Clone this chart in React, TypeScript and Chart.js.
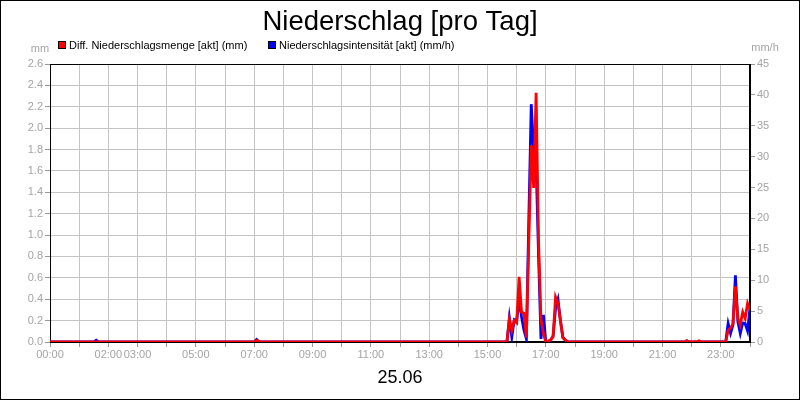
import React, { useEffect, useRef } from "react";
import { Chart, registerables } from "chart.js";

Chart.register(...registerables);

// ---- Texts ----
const TITLE = "Niederschlag [pro Tag]";
const DATE_LABEL = "25.06";
const SERIES_NAMES = [
  "Diff. Niederschlagsmenge [akt] (mm)",
  "Niederschlagsintensität [akt] (mm/h)",
];
const UNIT_LEFT = "mm";
const UNIT_RIGHT = "mm/h";

// ---- Axis ticks ----
const X_LABEL_HOURS = [0, 2, 3, 5, 7, 9, 11, 13, 15, 17, 19, 21, 23];
const LEFT_MAX = 2.6;
const LEFT_STEP = 0.2;
const RIGHT_MAX = 45;
const RIGHT_STEP = 5;

// ---- Data (5-minute readings; omitted stretches are 0) ----
const times = [
  "00:00", "01:30", "01:35", "01:40",
  "07:00", "07:05", "07:10", "07:15",
  "15:40", "15:45", "15:50", "15:55", "16:00", "16:05", "16:10", "16:15",
  "16:20", "16:25", "16:30", "16:35", "16:40", "16:45", "16:50", "16:55",
  "17:00", "17:05", "17:10", "17:15", "17:20", "17:25", "17:30", "17:35",
  "17:40", "17:45",
  "21:45", "21:50", "21:55", "22:10", "22:15", "22:20",
  "23:10", "23:15", "23:20", "23:25", "23:30", "23:35", "23:40", "23:45",
  "23:50", "23:55", "24:00",
];
const mengeMm = [
  0, 0, 0, 0,
  0, 0.015, 0.005, 0,
  0, 0.21, 0.11, 0.2, 0.18, 0.61, 0.28, 0.27,
  0.04, 0.95, 1.84, 1.44, 2.33, 0.95, 0.21, 0.08,
  0, 0.01, 0.02, 0.05, 0.42, 0.36, 0.2, 0.04,
  0.02, 0,
  0, 0.012, 0, 0, 0.012, 0,
  0, 0.11, 0.13, 0.17, 0.52, 0.22, 0.16, 0.28,
  0.22, 0.36, 0.3,
];
const intensitaetMmH = [
  0, 0, 0.3, 0,
  0, 0.4, 0, 0,
  0, 3.9, 0.8, 3.6, 3.4, 6.9, 4.1, 1.9,
  0.5, 20, 38.5, 31, 28.9, 14, 0.5, 4.4,
  0, 0, 0.3, 1.0, 5.5, 6.9, 3.5, 0.8,
  0.3, 0,
  0, 0.2, 0, 0, 0, 0,
  0, 3.0, 1.4, 2.8, 10.8, 3.3, 1.4, 3.1,
  3.0, 1.8, 5.5,
];

const COLORS = ["#ff0000", "#0000ff"];
const FONT = "'Liberation Sans', Arial, Helvetica, sans-serif";
const TICK_COLOR = "#a4a4a4";
const GRID_COLOR = "#c4c4c4";

const toMinutes = (t: string) => {
  const [h, m] = t.split(":").map(Number);
  return h * 60 + m;
};
const pad2 = (n: number) => (n < 10 ? "0" + n : "" + n);

const decorPlugin = {
  id: "decor",
  beforeDatasetsDraw(chart: any) {
    const { ctx, chartArea } = chart;
    ctx.save();
    ctx.strokeStyle = "#000";
    ctx.lineWidth = 1;
    const l = Math.round(chartArea.left) + 0.5;
    const r = Math.round(chartArea.right) - 0.5;
    const t = Math.round(chartArea.top) + 0.5;
    const b = Math.round(chartArea.bottom) - 0.5;
    ctx.strokeRect(l, t, r - l, b - t);
    ctx.restore();
  },
  afterDraw(chart: any) {
    const { ctx } = chart;
    ctx.save();
    // title
    ctx.fillStyle = "#000";
    ctx.textAlign = "center";
    ctx.textBaseline = "alphabetic";
    ctx.font = `27.5px ${FONT}`;
    ctx.fillText(TITLE, 400, 30);
    // date
    ctx.font = `18px ${FONT}`;
    ctx.textBaseline = "middle";
    ctx.fillText(DATE_LABEL, 400, 378);
    // legend
    ctx.font = `11px ${FONT}`;
    ctx.textAlign = "left";
    const legendX = [58, 268];
    chart.data.datasets.forEach((ds: any, i: number) => {
      const x = legendX[i];
      ctx.fillStyle = ds.borderColor;
      ctx.fillRect(x, 41, 8, 8);
      ctx.strokeStyle = "#000";
      ctx.lineWidth = 1;
      ctx.strokeRect(x + 0.5, 41.5, 7, 7);
      ctx.fillStyle = "#000";
      ctx.fillText(ds.label, x + 11, 45.5);
    });
    // units
    ctx.fillStyle = TICK_COLOR;
    ctx.textAlign = "center";
    ctx.fillText(UNIT_LEFT, 40, 49);
    ctx.fillText(UNIT_RIGHT, 765, 48);
    ctx.restore();
  },
};

export default function App() {
  const canvasRef = useRef<HTMLCanvasElement | null>(null);

  useEffect(() => {
    document.body.style.margin = "0";
    const canvas = canvasRef.current;
    if (!canvas) return;
    const xs = times.map(toMinutes);
    const chart = new Chart(canvas, {
      type: "line",
      data: {
        datasets: [
          {
            label: SERIES_NAMES[0],
            data: xs.map((x, i) => ({ x, y: mengeMm[i] })),
            borderColor: COLORS[0],
            backgroundColor: COLORS[0],
            borderWidth: 2.8,
            pointRadius: 0,
            tension: 0,
            yAxisID: "y",
          },
          {
            label: SERIES_NAMES[1],
            data: xs.map((x, i) => ({ x, y: intensitaetMmH[i] })),
            borderColor: COLORS[1],
            backgroundColor: COLORS[1],
            borderWidth: 2.8,
            pointRadius: 0,
            tension: 0,
            yAxisID: "y2",
          },
        ],
      },
      options: {
        animation: false,
        responsive: false,
        devicePixelRatio: 1,
        layout: { padding: { top: 64, bottom: 38, left: 0, right: 0 } },
        plugins: {
          legend: { display: false },
          title: { display: false },
          tooltip: { enabled: false },
        },
        scales: {
          x: {
            type: "linear",
            min: 0,
            max: 1440,
            afterFit: (s: any) => {
              s.height = 20;
            },
            ticks: {
              stepSize: 60,
              autoSkip: false,
              maxRotation: 0,
              padding: 1,
              color: TICK_COLOR,
              font: { family: FONT, size: 11 },
              callback: (v: any) => {
                const h = Number(v) / 60;
                return X_LABEL_HOURS.includes(h) ? pad2(h) + ":00" : "";
              },
            },
            grid: { color: GRID_COLOR, tickLength: 5, tickColor: "#999" },
            border: { color: "#000" },
          },
          y: {
            position: "left",
            min: 0,
            max: LEFT_MAX,
            afterFit: (s: any) => {
              s.width = 50;
            },
            ticks: {
              stepSize: LEFT_STEP,
              padding: 2,
              color: TICK_COLOR,
              font: { family: FONT, size: 11 },
              callback: (v: any) => Number(v).toFixed(1),
            },
            grid: { color: GRID_COLOR, tickLength: 5, tickColor: "#999" },
            border: { color: "#000" },
          },
          y2: {
            position: "right",
            min: 0,
            max: RIGHT_MAX,
            afterFit: (s: any) => {
              s.width = 50;
            },
            ticks: {
              stepSize: RIGHT_STEP,
              padding: 2,
              color: TICK_COLOR,
              font: { family: FONT, size: 11 },
            },
            grid: { drawOnChartArea: false, tickLength: 5, color: "#999" },
            border: { color: "#000" },
          },
        },
      },
      plugins: [decorPlugin],
    });
    return () => chart.destroy();
  }, []);

  return (
    <div style={{ position: "relative", width: 800, height: 400, background: "#fff" }}>
      <canvas ref={canvasRef} width={800} height={400} style={{ display: "block" }} />
      <div
        style={{
          position: "absolute",
          left: 0,
          top: 0,
          width: 800,
          height: 400,
          boxSizing: "border-box",
          border: "1px solid #000",
          pointerEvents: "none",
        }}
      />
    </div>
  );
}
